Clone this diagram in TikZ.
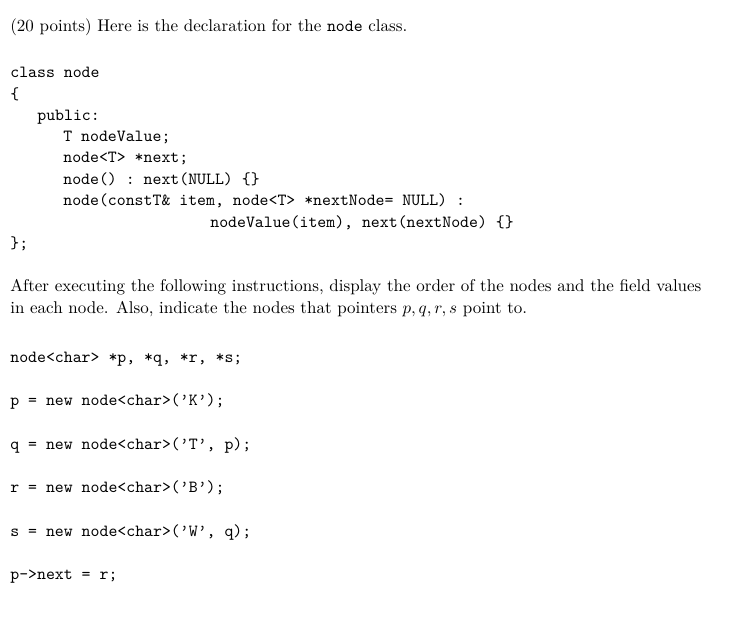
\documentclass[tikz,border=0pt]{standalone}
\begin{document}
\begin{tikzpicture}[x=1pt,y=-1pt,every node/.style={anchor=base west,inner sep=0pt,scale=1.7,transform shape,font=\fontsize{10}{12}\selectfont},
 code/.style={font=\fontsize{10}{12}\selectfont\ttfamily}]
\useasboundingbox (0,0) rectangle (755,616);
\node (t1) at (10,31) {(20 points) Here is the declaration for the \texttt{node} class.};
\node[code] (c1) at (10,77) {class node};
\node[code] (c2) at (10,99) {\{};
\node[code] (c3) at (37,120) {public:};
\node[code] (c4) at (63,141) {T nodeValue;};
\node[code] (c5) at (63,162) {node<T> *next;};
\node[code] (c6) at (63,184) {node()~:~next(NULL)~\{\}};
\node[code] (c7) at (63,205) {node(constT\&~item,~node<T>~*nextNode=~NULL)~:};
\node[code] (c8) at (210,227) {nodeValue(item),~next(nextNode)~\{\}};
\node[code] (c9) at (10,248) {\};};
\node (t2) at (10,291) {After executing the following instructions, display the order of the nodes and the field values};
\node (t3) at (10,313) {in each node. Also, indicate the nodes that pointers $p,q,r,s$ point to.};
\node[code] (d1) at (10,362) {node<char>~*p,~*q,~*r,~*s;};
\node[code] (d2) at (10,405) {p~=~new~node<char>(’K’);};
\node[code] (d3) at (10,449) {q~=~new~node<char>(’T’,~p);};
\node[code] (d4) at (10,492) {r~=~new~node<char>(’B’);};
\node[code] (d5) at (10,536) {s~=~new~node<char>(’W’,~q);};
\node[code] (d6) at (10,579) {p->next~=~r;};
\end{tikzpicture}
\end{document}
